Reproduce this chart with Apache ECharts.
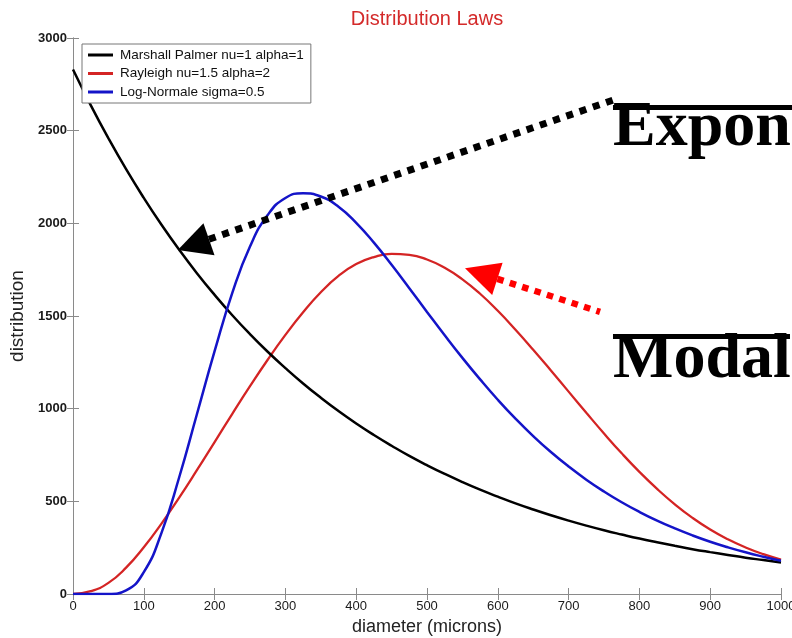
<!DOCTYPE html>
<html>
<head>
<meta charset="utf-8">
<script src="https://cdn.jsdelivr.net/npm/echarts@6/dist/echarts.min.js"></script>
<style>
html,body{margin:0;padding:0;background:#fff;}
#chart{width:792px;height:638px;}
</style>
</head>
<body>
<div id="chart"></div>
<script>
// Diameter samples (microns)
const diameters = [0,25,50,75,100,125,150,175,200,225,250,275,300,325,350,375,400,425,450,475,500,525,550,575,600,625,650,675,700,725,750,775,800,825,850,875,900,925,950,975,1000];
// Marshall Palmer nu=1 alpha=1
const marshallPalmer = [2830,2638,2459,2292,2137,1992,1857,1731,1614,1504,1402,1307,1219,1136,1059,987,920,858,800,745,695,648,604,563,525,489,456,425,396,369,344,321,299,279,260,242,226,211,196,183,170];
// Rayleigh nu=1.5 alpha=2
const rayleigh = [0,15,60,142,252,380,520,668,820,972,1121,1264,1398,1520,1628,1716,1780,1818,1835,1830,1805,1760,1698,1620,1528,1426,1318,1206,1092,978,866,759,659,567,484,411,348,295,251,215,186];
// Log-Normale sigma=0.5
const logNormale = [0,0,0,20,118,330,630,970,1310,1625,1875,2045,2137,2162,2145,2090,2003,1896,1776,1650,1522,1396,1274,1158,1048,946,852,766,688,617,553,495,443,396,354,316,282,252,225,201,179];

const seriesNames = ['Marshall Palmer nu=1 alpha=1','Rayleigh nu=1.5 alpha=2','Log-Normale sigma=0.5'];
const seriesColors = ['#000000','#d42424','#1414c8'];
const xTicks = [0,100,200,300,400,500,600,700,800,900,1000];
const yTicks = [0,500,1000,1500,2000,2500,3000];

const chartTitle = 'Distribution Laws';
const xName = 'diameter (microns)';
const yName = 'distribution';

// Annotation anchors in data coordinates
const labelExpon = 'Expon';
const labelModal = 'Modal';
const blackArrowFrom = [762.7, 2665];
const blackArrowTo = [148, 1856];
const redArrowFrom = [744.4, 1522];
const redArrowTo = [553.7, 1757];

function pairs(ys){ return diameters.map((d,i)=>[d, ys[i]]); }

const chart = echarts.init(document.getElementById('chart'), null, {renderer:'canvas'});
const axisGrey = '#8a8a8a';
const sans = '"Liberation Sans", Arial, sans-serif';
const baseAxis = {
  type:'value',
  axisLine:{show:true, lineStyle:{color:axisGrey, width:1}},
  axisTick:{show:true, inside:true, length:6, lineStyle:{color:axisGrey}},
  splitLine:{show:false}
};

chart.setOption({
  animation:false,
  backgroundColor:'#ffffff',
  textStyle:{fontFamily:sans},
  grid:{left:73, right:11, top:38, bottom:44, containLabel:false, outerBoundsMode:'none'},
  legend:{
    show:true, orient:'vertical', left:82, top:44,
    data:seriesNames,
    icon:'rect', itemWidth:25, itemHeight:3, itemGap:4.5,
    padding:[4,7,4,6],
    borderColor:'#777', borderWidth:1, backgroundColor:'#ffffff',
    textStyle:{fontSize:13.5, color:'#111', fontFamily:sans, padding:[0,0,0,2]}
  },
  xAxis:[
    Object.assign({}, baseAxis, {
      min:0, max:1000, interval:100, position:'bottom',
      name:xName, nameLocation:'middle', nameGap:24,
      nameTextStyle:{fontSize:18, color:'#222', fontFamily:sans},
      axisLabel:{show:true, margin:6, fontSize:13, color:'#1a1a1a',
        formatter:v=> xTicks.includes(v) ? String(v) : ''}
    }),
    Object.assign({}, baseAxis, {
      min:0, max:1000, interval:100, position:'top', axisLabel:{show:false}
    })
  ],
  yAxis:[
    Object.assign({}, baseAxis, {
      min:0, max:3000, interval:500, position:'left',
      name:yName, nameLocation:'middle', nameGap:39, nameRotate:90,
      nameTextStyle:{fontSize:19, color:'#222', fontFamily:sans},
      axisLabel:{show:true, margin:6, fontSize:13, color:'#1a1a1a', fontWeight:'bold',
        formatter:v=> yTicks.includes(v) ? String(v) : ''}
    }),
    Object.assign({}, baseAxis, {
      min:0, max:3000, interval:500, position:'right', axisLabel:{show:false}
    })
  ],
  series:[
    {name:seriesNames[0], type:'line', data:pairs(marshallPalmer), smooth:true, showSymbol:false, symbol:'none',
      lineStyle:{color:seriesColors[0], width:2.5}, itemStyle:{color:seriesColors[0]}, z:3},
    {name:seriesNames[1], type:'line', data:pairs(rayleigh), smooth:true, showSymbol:false, symbol:'none',
      lineStyle:{color:seriesColors[1], width:2.3}, itemStyle:{color:seriesColors[1]}, z:2},
    {name:seriesNames[2], type:'line', data:pairs(logNormale), smooth:true, showSymbol:false, symbol:'none',
      lineStyle:{color:seriesColors[2], width:2.5}, itemStyle:{color:seriesColors[2]}, z:4}
  ]
});

function toPx(p){ return chart.convertToPixel({xAxisIndex:0, yAxisIndex:0}, p); }

function arrow(fromD, toD, color, lw, headLen, headHalf){
  const a = toPx(fromD), b = toPx(toD);
  const dx = a[0]-b[0], dy = a[1]-b[1];
  const L = Math.sqrt(dx*dx+dy*dy);
  const ux = dx/L, uy = dy/L;
  const bx = b[0]+ux*headLen, by = b[1]+uy*headLen;
  const px = -uy, py = ux;
  return [
    {type:'line', shape:{x1:bx, y1:by, x2:a[0], y2:a[1]},
      style:{stroke:color, lineWidth:lw, lineDash:[lw, lw], lineCap:'butt'}, z:50},
    {type:'polygon', shape:{points:[[b[0],b[1]],[bx+px*headHalf, by+py*headHalf],[bx-px*headHalf, by-py*headHalf]]},
      style:{fill:color}, z:51}
  ];
}

const exponPos = toPx(blackArrowFrom);
const titlePos = toPx([500, 3000]);

const serif = '"Liberation Serif", "Times New Roman", serif';
const graphics = []
  .concat(arrow(blackArrowFrom, blackArrowTo, '#000000', 7, 33, 17))
  .concat(arrow(redArrowFrom, redArrowTo, '#ff0000', 6.5, 34, 17))
  .concat([
    {type:'text', x:titlePos[0], y:19,
      style:{text:chartTitle, fill:'#d42a2a', font:'20px ' + sans, align:'center', verticalAlign:'middle'}, z:60},
    {type:'text', x:exponPos[0], y:96,
      style:{text:labelExpon, fill:'#000', font:'bold 64px ' + serif, align:'left', verticalAlign:'alphabetic'}, z:60},
    {type:'rect', shape:{x:exponPos[0], y:105, width:792-exponPos[0], height:5}, style:{fill:'#000'}, z:60},
    {type:'text', x:exponPos[0], y:328,
      style:{text:labelModal, fill:'#000', font:'bold 64px ' + serif, align:'left', verticalAlign:'alphabetic'}, z:60},
    {type:'rect', shape:{x:exponPos[0], y:334, width:177, height:5}, style:{fill:'#000'}, z:60}
  ]);

chart.setOption({graphic:{elements:graphics}});
</script>
</body>
</html>
